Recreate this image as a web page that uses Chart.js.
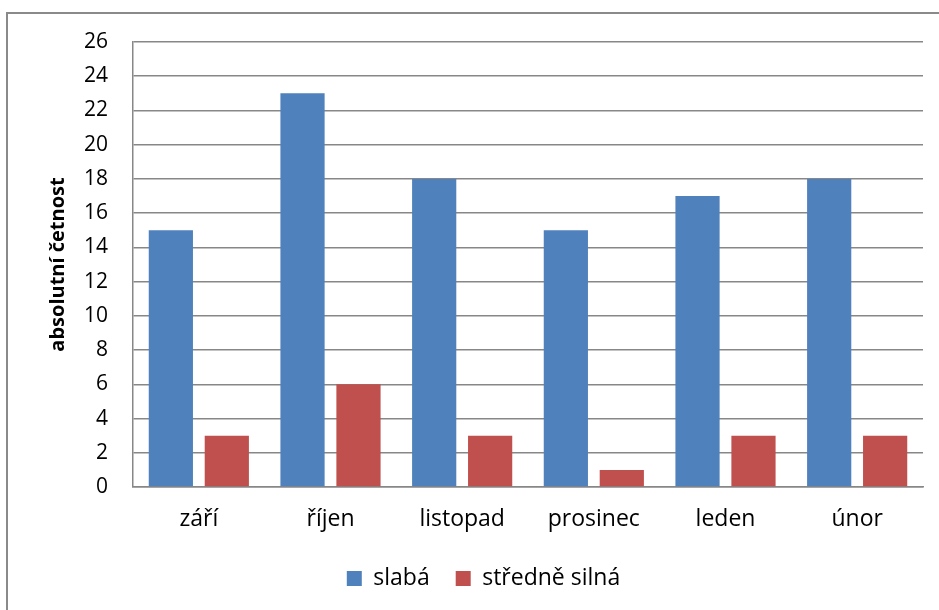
<!DOCTYPE html>
<html>
<head>
<meta charset="utf-8">
<script src="https://cdn.jsdelivr.net/npm/chart.js@4/dist/chart.umd.min.js"></script>
<style>
  html, body { margin: 0; padding: 0; background: #fff; }
  #wrap { position: relative; width: 939px; height: 610px; overflow: hidden; }
  #frame {
    position: absolute; left: 6px; top: 12px; width: 1000px; height: 700px;
    border-left: 2px solid #8a8a8a; border-top: 2px solid #8a8a8a;
  }
  canvas { position: absolute; left: 0; top: 0; }
</style>
</head>
<body>
<div id="wrap">
  <div id="frame"></div>
  <canvas id="graf" width="939" height="610"></canvas>
</div>
<script>
// měsíce a četnosti podle síly
const mesice = ['září', 'říjen', 'listopad', 'prosinec', 'leden', 'únor'];
const slaba = [15, 23, 18, 15, 17, 18];
const stredneSilna = [3, 6, 3, 1, 3, 3];
const osaY = { min: 0, max: 26, krok: 2 };

const pismo = '"Open Sans", sans-serif';
const sedaMriz = '#878787';

// legenda trochu doprava, pod střed grafu
const posunLegendy = {
    id: 'posunLegendy',
    afterLayout: function(chart) {
        if (chart.legend) {
            chart.legend.left += 22;
            chart.legend.right += 22;
        }
    }
};

document.addEventListener('DOMContentLoaded', function() {
    const ctx = document.getElementById('graf').getContext('2d');
    new Chart(ctx, {
        type: 'bar',
        data: {
            labels: mesice,
            datasets: [{
                label: 'slabá',
                data: slaba,
                backgroundColor: '#4F81BD',
                categoryPercentage: 0.85,
                barPercentage: 0.79
            }, {
                label: 'středně silná',
                data: stredneSilna,
                backgroundColor: '#C0504D',
                categoryPercentage: 0.85,
                barPercentage: 0.79
            }]
        },
        options: {
            responsive: false,
            animation: false,
            layout: {
                padding: { top: 42, right: 16, left: 0, bottom: 10 }
            },
            plugins: {
                tooltip: { enabled: false },
                legend: {
                    position: 'bottom',
                    labels: {
                        color: '#000',
                        font: { family: pismo, size: 23 },
                        boxWidth: 15,
                        boxHeight: 15,
                        padding: 26
                    }
                }
            },
            scales: {
                x: {
                    grid: { display: false, drawTicks: false },
                    border: { color: sedaMriz, width: 1.5 },
                    ticks: {
                        color: '#000',
                        font: { family: pismo, size: 23 },
                        padding: 19
                    },
                    afterFit: function(scale) { scale.height = 54; }
                },
                y: {
                    min: osaY.min,
                    max: osaY.max,
                    grid: { color: sedaMriz, lineWidth: 1.5, drawTicks: false },
                    border: { color: sedaMriz, width: 1.5 },
                    ticks: {
                        stepSize: osaY.krok,
                        color: '#000',
                        font: { family: pismo, size: 21 },
                        padding: 25
                    },
                    title: {
                        display: true,
                        text: 'absolutní četnost',
                        color: '#000',
                        font: { family: pismo, size: 20, weight: 'bold' },
                        padding: { top: 46, bottom: 0 }
                    },
                    afterFit: function(scale) { scale.width = 133; }
                }
            }
        },
        plugins: [posunLegendy]
    });
});
</script>
</body>
</html>
